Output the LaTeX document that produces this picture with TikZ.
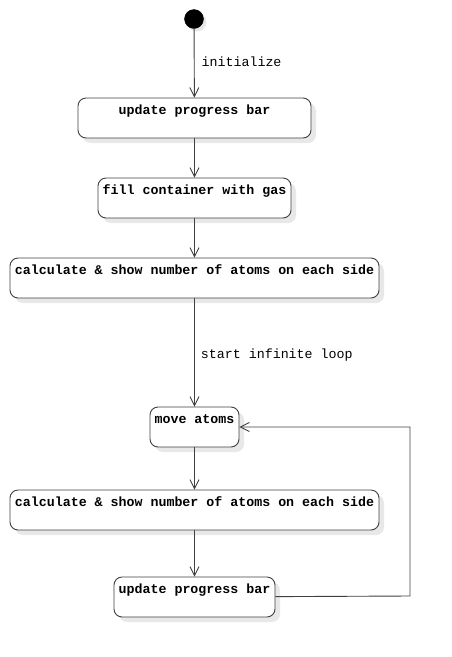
\documentclass[tikz,border=0pt]{standalone}
\usepackage{fontspec}
\setmonofont{Liberation Mono}
\usetikzlibrary{arrows.meta,shadows}
\tikzset{
  state/.style={rectangle,rounded corners=8pt,draw=black!75,fill=white,line width=0.9pt,
    font=\ttfamily\bfseries\fontsize{13.3}{15}\selectfont,inner xsep=4pt,inner ysep=4pt,
    text height=12pt,text depth=20pt,minimum height=40pt,
    drop shadow={shadow xshift=5pt,shadow yshift=-5pt,fill=black!9,opacity=1}},
  start/.style={circle,fill=black,draw=black,minimum size=19pt,inner sep=0,
    drop shadow={shadow xshift=3pt,shadow yshift=-3pt,fill=black!9,opacity=1}},
  flow/.style={draw=black!75,line width=0.9pt,-{Straight Barb[length=9pt,width=9pt]}},
  note/.style={font=\ttfamily\fontsize{13.3}{15}\selectfont,inner sep=0,anchor=west}
}
\begin{document}
\begin{tikzpicture}[x=1pt,y=-1pt]
    \useasboundingbox (0,0) rectangle (451,657);
    % Nodes: start point and six actions
    \node[start] (init) at (194,19) {};
    \node[state,minimum width=233pt] (upd1) at (194.5,118) {update progress bar};
    \node[state,minimum width=193pt] (fill) at (194.5,198) {fill container with gas};
    \node[state,minimum width=369pt] (calc1) at (194.5,278) {calculate \& show number of atoms on each side};
    \node[state,minimum width=89pt] (move) at (194.5,427) {move atoms};
    \node[state,minimum width=369pt] (calc2) at (194.5,510) {calculate \& show number of atoms on each side};
    \node[state,minimum width=161pt] (upd2) at (194.5,597) {update progress bar};
    \coordinate (back) at (410,596);
    % Connections
    \draw[flow] (init) -- node[note,pos=0.48,xshift=7pt] (lInit) {initialize} (upd1);
    \draw[flow] (upd1) -- (fill);
    \draw[flow] (fill) -- (calc1);
    \draw[flow] (calc1) -- node[note,pos=0.52,xshift=6pt] (lLoop) {start infinite loop} (move);
    \draw[flow] (move) -- (calc2);
    \draw[flow] (calc2) -- (upd2);
    \draw[flow] (upd2) -- (back) |- (move);
  \end{tikzpicture}
\end{document}
